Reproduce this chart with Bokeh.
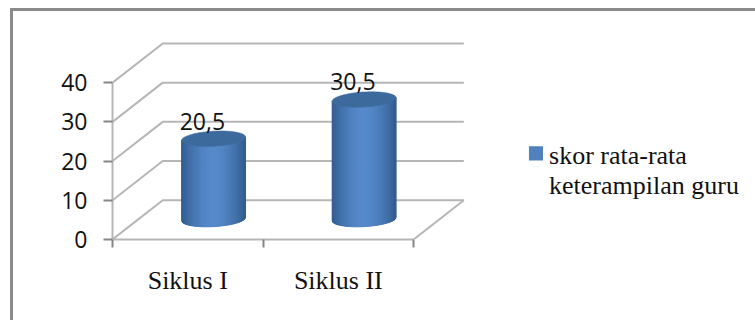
import numpy as np
from bokeh.core.properties import value
from bokeh.embed import file_html
from bokeh.models import FixedTicker, Range1d
from bokeh.plotting import figure
from bokeh.resources import INLINE

# chart content
categories = ["Siklus I", "Siklus II"]
scores = [20.5, 30.5]
score_labels = ["20,5", "30,5"]
y_ticks = [0, 10, 20, 30, 40]
legend_lines = ["skor rata-rata", "keterampilan guru"]

# projection of the pseudo-3D box, in data units
X_UNIT = 149.85     # pixels per category
Y_UNIT = 3.87       # pixels per score point
DEPTH_X = 50 / X_UNIT
DEPTH_Y = 10.0
ORIGIN_X = 112
ORIGIN_Y = 236
BORDER_LEFT = 10
BORDER_TOP = 8
BORDER_W = 3

GRID = "#b6b6b6"
TICK = "#868686"


def dx(px):
    return (px - ORIGIN_X) / X_UNIT


def dy(px):
    return (ORIGIN_Y - px) / Y_UNIT


inner_left = BORDER_LEFT + BORDER_W
inner_top = BORDER_TOP + BORDER_W

p = figure(
    width=755 - inner_left,
    height=320 - inner_top,
    output_backend="svg",
    toolbar_location=None,
    x_range=Range1d(0, dx(755)),
    y_range=Range1d(0, dy(inner_top)),
    min_border_left=ORIGIN_X - inner_left,
    min_border_right=0,
    min_border_top=0,
    min_border_bottom=320 - ORIGIN_Y,
    outline_line_color=None,
    background_fill_color="white",
    border_fill_color="white",
)
p.grid.visible = False
p.margin = (BORDER_TOP, 0, 0, BORDER_LEFT)
p.styles = {
    "border-top": f"{BORDER_W}px solid #8a8a8a",
    "border-left": f"{BORDER_W}px solid #8a8a8a",
    "box-sizing": "content-box",
}

# value axis
ya = p.yaxis[0]
ya.ticker = FixedTicker(ticks=y_ticks)
ya.bounds = (0, 40)
ya.axis_line_color = GRID
ya.axis_line_width = 2
ya.major_tick_line_color = TICK
ya.major_tick_line_width = 2
ya.major_tick_out = 9
ya.major_tick_in = 0
ya.minor_tick_line_color = None
ya.major_label_standoff = 16
ya.major_label_text_font = "Open Sans"
ya.major_label_text_font_size = "23px"
ya.major_label_text_color = "#111111"

# category axis: ticks between the categories, labels at their centres
xa = p.xaxis[0]
xa.ticker = FixedTicker(ticks=[0.5, 1.5], minor_ticks=[0, 1, 2])
xa.major_label_overrides = {0.5: categories[0], 1.5: categories[1]}
xa.bounds = (0, 2)
xa.axis_line_color = GRID
xa.axis_line_width = 2
xa.major_tick_line_color = None
xa.major_tick_out = 0
xa.major_tick_in = 0
xa.minor_tick_line_color = TICK
xa.minor_tick_line_width = 2
xa.minor_tick_out = 8
xa.minor_tick_in = 0
xa.major_label_standoff = 18
xa.major_label_text_font = "Liberation Serif"
xa.major_label_text_font_size = "26px"
xa.major_label_text_color = "#111111"

# side wall and back wall gridlines, floor outline
grid_xs = [[0, DEPTH_X, 2 + DEPTH_X] for _ in y_ticks]
grid_ys = [[t, t + DEPTH_Y, t + DEPTH_Y] for t in y_ticks]
p.multi_line(grid_xs, grid_ys, line_color=GRID, line_width=2)
p.line([2, 2 + DEPTH_X], [0, DEPTH_Y], line_color=GRID, line_width=2)

# cylinders, shaded with narrow vertical strips
HALF_W = 31.8 / X_UNIT
RY = 7.4 / Y_UNIT
TILT = 1.7 / Y_UNIT
BASE = 5.2
CYL_SHIFT = 0.7 / X_UNIT


def blend(a, b, t):
    return "#%02x%02x%02x" % tuple(int(round(a[i] + (b[i] - a[i]) * t)) for i in range(3))


EDGE = (50, 92, 142)
MID = (86, 138, 203)
CAP = (60, 106, 156)

for i, v in enumerate(scores):
    cx = i + 0.5 + DEPTH_X / 2 + CYL_SHIFT
    u = np.linspace(-1, 1, 81)
    arc = np.sqrt(1 - u ** 2)
    xs = cx + HALF_W * u
    low = BASE - RY * arc + TILT * u
    high = BASE + v - RY * arc + TILT * u
    strip_x, strip_y, colors = [], [], []
    for k in range(len(u) - 1):
        strip_x.append([xs[k], xs[k + 1], xs[k + 1], xs[k]])
        strip_y.append([low[k], low[k + 1], high[k + 1], high[k]])
        t = 1 - abs((u[k] + u[k + 1]) / 2) ** 1.7
        colors.append(blend(EDGE, MID, t))
    p.patches(strip_x, strip_y, fill_color=colors, line_color=colors, line_width=1)

    # top cap
    theta = np.linspace(0, 2 * np.pi, 90)
    cap_x = cx + HALF_W * np.cos(theta)
    cap_y = BASE + v + RY * np.sin(theta) + TILT * np.cos(theta)
    p.patch(cap_x, cap_y, fill_color=blend(CAP, CAP, 0), line_color=blend(CAP, CAP, 0), line_width=0.6)

# value labels above the cylinders
p.text(
    x=[i + 0.5 + 14.5 / X_UNIT for i in range(len(scores))],
    y=[v + 9.7 for v in scores],
    text=score_labels,
    text_font=value("Open Sans"),
    text_font_size="23px",
    text_color="#111111",
    text_align="center",
    text_baseline="alphabetic",
)

# legend swatch and its two-line label
p.quad(left=dx(526.5), right=dx(540.5), top=dy(144), bottom=dy(158), fill_color="#4f81bd", line_color=None)
p.text(
    x=[dx(546.5), dx(546.5)],
    y=[dy(152.7), dy(183)],
    text=legend_lines,
    text_font=value("Liberation Serif"),
    text_font_size="26px",
    text_color="#111111",
    text_align="left",
    text_baseline="alphabetic",
)

open("out.html", "w").write(file_html(p, INLINE))
